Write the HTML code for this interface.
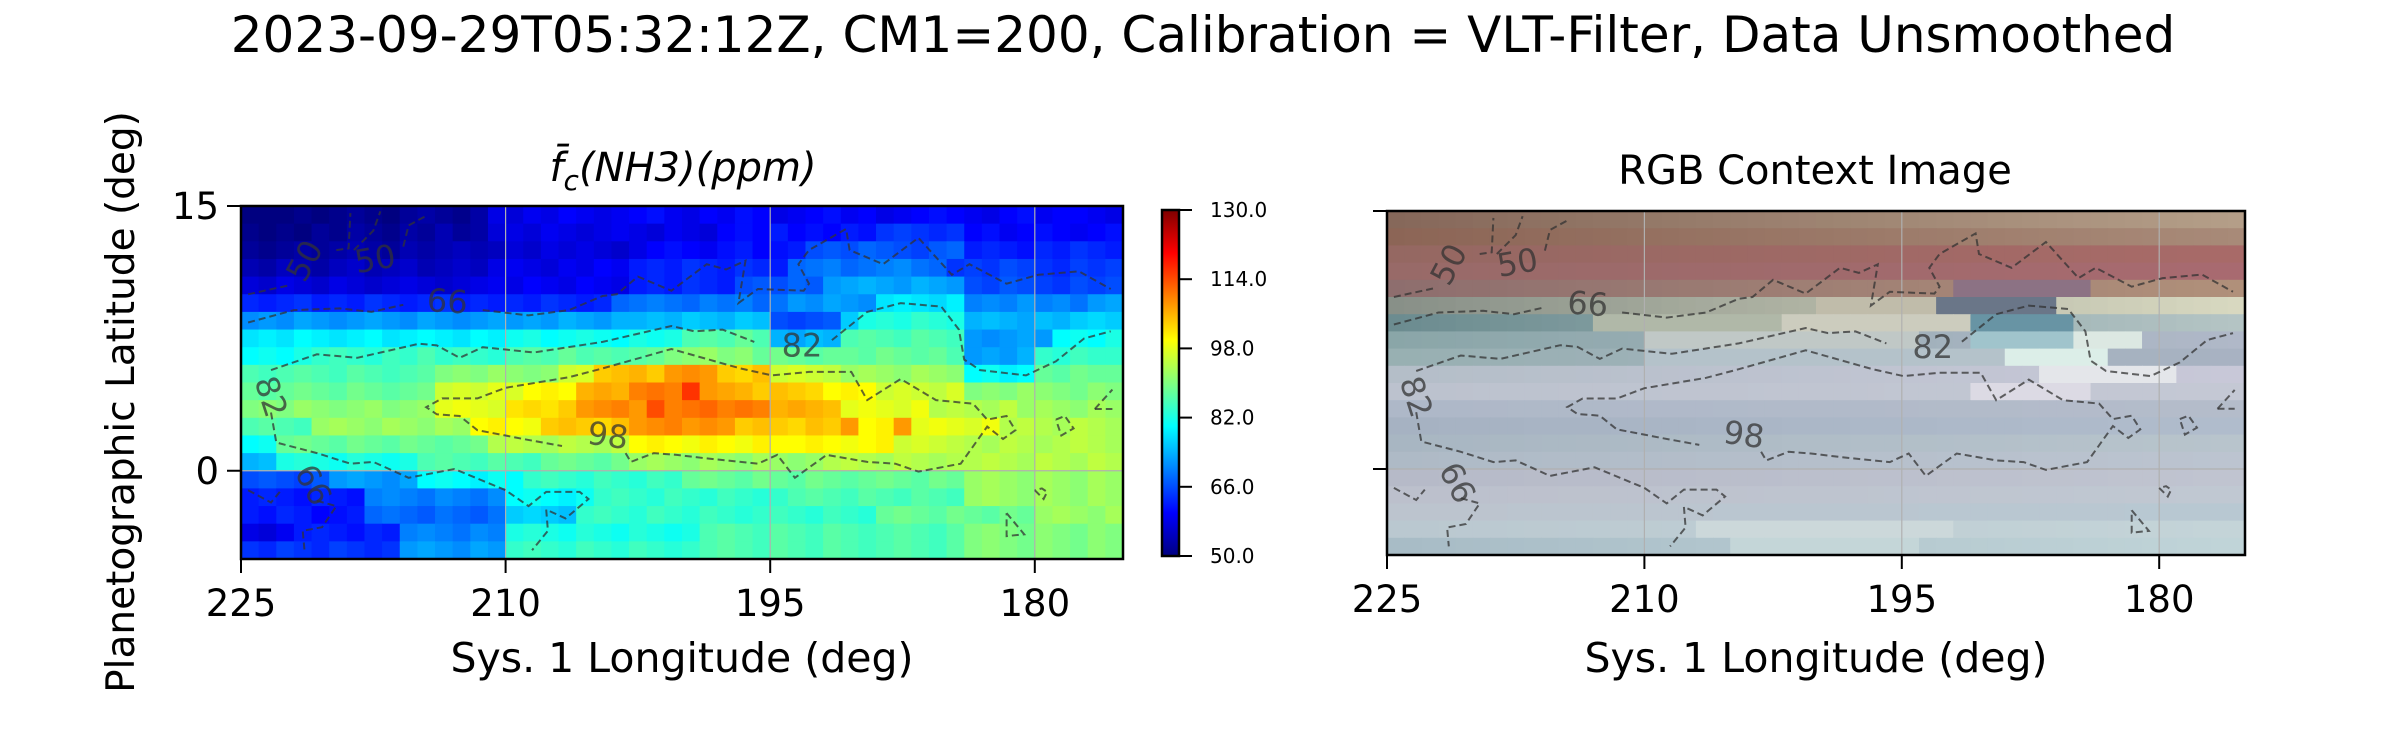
<!DOCTYPE html>
<html><head><meta charset="utf-8"><style>
html,body{margin:0;padding:0;background:#fff;}
svg{display:block;font-family:"DejaVu Sans","Liberation Sans",sans-serif;}
</style></head><body>
<svg id="fig" width="2400" height="750" viewBox="0 0 2400 750" xmlns="http://www.w3.org/2000/svg">
<text x="1203" y="52" font-size="50" text-anchor="middle">2023-09-29T05:32:12Z, CM1=200, Calibration = VLT-Filter, Data Unsmoothed</text>
<text transform="translate(134,402) rotate(-90)" font-size="39" text-anchor="middle">Planetographic Latitude (deg)</text>
<text x="683" y="181" font-size="40" text-anchor="middle" font-style="italic">f̄<tspan font-size="28" dy="9">c</tspan><tspan dy="-9">(NH3)(ppm)</tspan></text>
<text x="1815" y="184" font-size="40" text-anchor="middle">RGB Context Image</text>
<text x="682" y="672" font-size="41" text-anchor="middle">Sys. 1 Longitude (deg)</text>
<text x="1816" y="672" font-size="41" text-anchor="middle">Sys. 1 Longitude (deg)</text>
<g id="left"></g>
<g id="right"></g>
<g id="cbar"></g>
</svg>
<script>
const nh3 = [
[50,50,50,51,50,51,52,51,50,52,53,52,51,53,58,57,59,58,60,59,58,59,60,61,59,58,60,59,61,60,58,59,60,61,59,60,58,59,60,61,60,59,58,60,61,59,60,60,59,58],
[51,50,51,50,52,51,53,52,51,53,52,54,52,53,57,58,57,59,58,57,58,59,58,57,59,58,57,60,61,60,62,60,61,60,62,61,64,65,64,63,64,60,61,59,60,61,60,59,60,61],
[52,51,52,53,52,53,54,53,52,54,53,54,55,54,55,57,56,58,57,58,57,56,58,60,61,60,59,61,62,60,61,62,66,67,66,68,67,66,65,67,68,62,63,62,61,63,62,64,63,62],
[54,53,55,54,53,55,56,54,55,56,54,55,56,55,58,59,58,57,59,58,60,59,62,63,62,64,63,62,64,63,62,68,69,70,68,69,70,71,69,68,64,65,64,66,65,64,63,65,64,65],
[57,56,58,57,56,58,57,56,57,58,57,56,57,58,59,58,60,59,58,60,59,58,62,63,62,64,63,62,66,67,66,68,67,72,73,74,73,72,74,73,72,66,65,67,66,65,64,66,65,66],
[63,62,63,64,62,63,62,64,63,62,63,64,62,63,62,63,62,64,63,62,63,68,69,70,69,68,70,69,70,68,69,72,71,73,72,71,78,79,78,77,79,70,71,70,72,70,71,69,72,73],
[71,72,71,73,72,71,72,73,72,71,73,72,71,72,73,72,73,72,74,73,72,74,74,75,74,76,75,74,76,75,66,65,66,67,76,82,83,82,84,83,82,74,75,74,73,75,74,76,77,76],
[78,79,78,80,79,78,79,80,78,79,80,79,78,80,79,81,82,80,81,82,81,80,82,81,82,86,87,86,88,86,74,73,75,74,86,87,86,85,87,86,85,72,71,72,73,72,80,81,80,82],
[80,81,80,82,84,85,84,83,85,84,86,84,85,84,83,86,87,86,88,86,87,86,87,88,90,91,92,90,91,88,89,88,87,88,88,87,89,88,87,88,86,72,73,72,74,84,83,85,84,84],
[86,85,86,87,86,85,87,86,85,86,87,90,91,90,92,91,90,91,96,97,104,105,106,104,108,109,108,104,103,105,96,97,96,95,92,93,92,91,93,92,91,80,81,79,80,88,87,89,88,88],
[88,87,88,89,88,87,89,88,87,88,89,96,97,96,98,97,100,101,100,106,107,106,110,111,110,116,108,107,106,104,105,104,103,100,101,100,96,97,96,95,97,90,91,90,92,91,90,89,91,90],
[90,91,90,92,91,90,91,92,90,91,92,98,99,98,97,102,103,102,104,108,109,110,108,114,110,111,112,110,111,110,106,107,106,105,98,99,98,97,99,94,95,94,93,95,92,93,92,91,93,92],
[86,87,86,85,92,93,92,91,93,92,91,93,92,100,101,100,99,104,105,104,103,105,108,109,110,108,109,108,104,105,104,103,105,104,108,100,101,108,98,99,98,97,99,94,95,94,93,95,94,93],
[80,81,88,89,88,87,89,88,87,89,88,87,88,89,94,95,94,93,95,94,93,95,100,101,100,99,101,100,99,101,100,100,101,100,99,100,101,96,97,96,95,94,93,95,94,93,94,95,94,93],
[74,75,82,83,82,81,83,82,81,82,86,87,86,85,87,86,85,88,89,88,87,89,92,93,92,91,93,92,91,93,92,91,92,94,95,94,93,95,94,93,94,94,95,94,93,95,94,93,95,94],
[66,67,66,65,67,72,73,72,71,73,80,81,80,79,81,80,84,85,84,83,85,84,83,85,84,88,89,88,87,89,88,87,89,88,87,88,89,88,87,89,88,92,93,92,91,93,92,91,93,92],
[62,63,62,61,63,62,61,70,71,70,69,71,70,69,71,80,81,80,79,81,84,85,84,83,85,84,83,85,84,83,84,86,87,86,85,87,86,85,87,86,85,92,93,92,91,93,92,91,93,92],
[62,61,63,62,60,61,62,68,69,68,67,69,68,67,69,76,77,76,75,84,85,84,83,85,84,83,85,84,83,84,85,84,83,85,84,83,88,89,88,87,89,88,87,89,88,92,93,92,91,93],
[58,57,59,62,63,62,61,63,62,70,71,70,69,71,70,82,83,82,81,83,82,81,83,82,81,82,86,87,86,85,87,86,85,87,86,85,86,87,86,85,87,90,91,90,89,91,90,89,91,90],
[64,63,65,64,63,65,64,63,64,72,73,72,71,73,72,84,85,84,83,85,84,83,85,84,83,84,86,87,86,85,87,86,85,87,86,85,86,87,86,85,87,90,91,90,89,91,90,89,91,90]
];
const lonTicks = [225, 210, 195, 180];
const latTicks = [15, 0];
const cbTicks = [50, 66, 82, 98, 114, 130];
const cbTickLabels = ["50.0", "66.0", "82.0", "98.0", "114.0", "130.0"];
const rgbRowLeft = ["#86685a","#8c6556","#956862","#986a68","#8e6e6e","#889088","#6c8c90","#8aa6a8","#98b0b2","#b4bec8","#bcc2ce","#aeb8c8","#a6b2c2","#a8b6c2","#aebac6","#b6bac8","#bcc0cc","#bcc4ce","#bac8d0","#a8bcc6"];
const rgbRowRight = ["#b49e88","#a88a78","#a86a68","#a86a70","#b0907a","#d8d8c0","#b4c4c4","#b0b8c8","#a8b2c2","#c8c8d8","#c4c8d4","#b4bcca","#b0bccc","#b8c4cc","#bcc4d0","#c0c4d0","#c0c8d2","#b8c8d2","#c4d4d8","#c0d4d8"];
const rgbPatches = [
 [5,25,31,"#c0bcaa"],[5,32,38,"#6a7688"],[4,33,40,"#8c7284"],
 [6,12,22,"#b0b8a8"],[6,23,33,"#ccccbe"],[6,34,39,"#6894a4"],
 [7,34,39,"#a0c4cc"],[7,40,43,"#dce8e2"],[7,15,30,"#c0c8c6"],
 [8,36,41,"#dceee8"],[8,15,35,"#b4c2ca"],[9,38,45,"#e4e6ea"],[10,34,40,"#dcdae4"],
 [18,18,32,"#ccd8da"],[19,20,30,"#c4d6d8"]
];
const contour50 = [
 [[224.6,10.0],[222.3,10.5]],
 [[219.6,12.5],[218.9,12.6],[218.8,14.6]],
 [[218.6,12.5],[217.5,13.6],[217.1,14.7]],
 [[215.8,12.7],[215.5,13.9],[214.4,14.5]]
];
const contour66 = [
 [[224.6,8.4],[222.0,9.1],[219.4,9.2],[217.6,9.0],[215.8,9.4]],
 [[211.3,9.1],[208.7,8.8],[206.4,9.1],[204.5,9.9],[203.7,10.0],[202.5,11.0],[200.6,10.2],[198.6,11.7],[197.5,11.4],[196.4,11.9],[196.8,9.5],[195.7,10.3],[193.1,10.2],[192.8,10.6],[193.4,11.7],[192.8,12.5],[190.7,13.7],[190.5,12.5],[188.6,11.7],[186.6,13.2],[184.7,11.1],[183.7,11.7],[181.6,10.6],[179.8,11.1],[177.5,11.3],[175.7,10.3]],
 [[224.6,-1.1],[223.3,-1.8],[222.8,-1.2]],
 [[220.7,-1.7],[219.6,-2.0],[220.4,-3.2],[221.5,-3.4],[221.4,-4.5]]
];
const contour82 = [
 [[223.3,5.7],[220.7,6.6],[218.4,6.4],[214.9,7.2],[213.9,7.1],[212.6,6.4],[211.3,7.0],[208.4,6.7],[204.5,7.3],[200.6,8.2],[199.3,7.9],[197.7,8.0],[195.9,7.3]],
 [[191.5,7.4],[189.5,9.0],[187.6,9.5],[185.3,9.3],[184.3,8.0],[184.0,6.3],[183.1,5.7],[180.5,5.4],[178.8,6.2],[177.2,7.5],[175.7,7.9]],
 [[223.3,3.3],[223.0,1.6],[220.7,1.0],[218.8,0.4],[217.5,0.5],[215.5,-0.4],[212.9,0.1],[210.0,-1.1],[208.7,-2.0],[207.7,-1.2],[205.8,-1.2],[205.3,-1.6],[206.6,-2.7],[207.7,-2.2],[207.6,-3.4],[208.5,-4.5]],
 [[180.0,-1.1],[179.5,-1.6],[179.3,-1.2],[179.6,-1.0],[180.0,-1.1]],
 [[181.6,-2.4],[180.6,-3.6],[181.6,-3.7],[181.6,-2.4]],
 [[176.6,3.5],[175.6,4.6]],[[176.6,3.5],[175.6,3.5]]
];
const contour98 = [
 [[203.2,1.0],[202.9,0.5],[201.6,1.0],[200.3,0.9],[198.6,0.7],[195.7,0.4],[194.6,0.9],[193.6,-0.4],[191.8,0.9],[189.5,0.5],[187.9,0.4],[186.6,-0.05],[184.2,0.4],[182.7,2.5],[181.8,1.8],[181.1,2.3],[181.6,3.1],[182.7,2.9],[183.5,3.8],[185.6,4.0],[187.6,5.2],[189.5,4.0],[190.4,5.6],[192.8,5.6],[194.9,5.4],[196.7,5.8],[200.6,6.9],[204.5,5.8],[206.4,5.3],[210.0,4.7],[211.6,4.1],[213.6,4.1],[214.5,3.6],[213.9,3.2],[212.6,3.1],[211.6,2.3],[210.0,2.0],[209.0,1.8],[206.8,1.4]],
 [[178.8,2.9],[178.3,3.1],[177.8,2.4],[178.5,2.0],[178.8,2.9]]
];
const contourLabels = [
 ["50",221.4,11.9,-62],["50",217.4,12.0,-10],["66",213.3,9.6,4],["82",193.2,7.1,0],["82",223.3,4.2,72],["98",204.2,2.0,8],["66",220.9,-0.8,62]
];

const NS = "http://www.w3.org/2000/svg";
function mk(tag, attrs, parent){ const e=document.createElementNS(NS,tag); for(const k in attrs) e.setAttribute(k,attrs[k]); parent.appendChild(e); return e; }
function jet(v){
  const t=Math.max(0,Math.min(1,(v-50)/80));
  const f=(x)=>Math.max(0,Math.min(1,1.5-Math.abs(4*x)));
  const r=f(t-0.75), g=f(t-0.5), b=f(t-0.25);
  return "rgb("+Math.round(r*255)+","+Math.round(g*255)+","+Math.round(b*255)+")";
}
function hexMix(a,b,t){
  const pa=[1,3,5].map(i=>parseInt(a.substr(i,2),16)), pb=[1,3,5].map(i=>parseInt(b.substr(i,2),16));
  return "rgb("+pa.map((v,i)=>Math.round(v+(pb[i]-v)*t)).join(",")+")";
}
function makeAxes(x0,x1,y0,y1){
  return { x:(lon)=>x0+(225-lon)/50*(x1-x0), y:(lat)=>y0+(15-lat)/20*(y1-y0), x0,x1,y0,y1 };
}
const AL = makeAxes(241,1123,206,559);
const AR = makeAxes(1387,2245,211,555);

function drawPanel(g, A, cellColor, labelTicks, nameP){
  for(let r=0;r<20;r++){
    for(let c=0;c<50;c++){
      const lonL=225-c, latT=15-r;
      const x=A.x(lonL), y=A.y(latT);
      const rect=mk("rect",{x:x.toFixed(2),y:y.toFixed(2),width:(A.x(lonL-1)-x+0.6).toFixed(2),height:(A.y(latT-1)-y+0.6).toFixed(2),fill:cellColor(r,c)},g);
      
      
    }
  }
  lonTicks.forEach(lon=>{
    const gl=mk("line",{x1:A.x(lon),x2:A.x(lon),y1:A.y0,y2:A.y1,stroke:"#b0b0b0","stroke-width":1.2},g);
    
    
  });
  latTicks.forEach(lat=>{
    const gl=mk("line",{x1:A.x0,x2:A.x1,y1:A.y(lat),y2:A.y(lat),stroke:"#b0b0b0","stroke-width":1.2},g);
    
    
  });
  const sets=[contour50,contour66,contour82,contour98];
  sets.forEach(set=>set.forEach(line=>{
    const d=line.map((p,i)=>(i?"L":"M")+A.x(p[0]).toFixed(1)+","+A.y(p[1]).toFixed(1)).join(" ");
    const path=mk("path",{d:d,fill:"none",stroke:"#333","stroke-opacity":0.75,"stroke-width":2,"stroke-dasharray":"7,4"},g);
    
    
  }));
  contourLabels.forEach(l=>{
    const t=mk("text",{x:A.x(l[1]),y:A.y(l[2]),"font-size":32,"text-anchor":"middle","dominant-baseline":"central",fill:"#333","fill-opacity":0.75,transform:"rotate("+l[3]+" "+A.x(l[1])+" "+A.y(l[2])+")"},g);
    t.textContent=l[0];
    
    
  });
  const frame=mk("rect",{x:A.x0,y:A.y0,width:A.x1-A.x0,height:A.y1-A.y0,fill:"none",stroke:"#000","stroke-width":2.5},g);
  
  
  lonTicks.forEach(lon=>{
    const tk=mk("line",{x1:A.x(lon),x2:A.x(lon),y1:A.y1,y2:A.y1+14,stroke:"#000","stroke-width":2},g);
    
    
    const t=mk("text",{x:A.x(lon),y:A.y1+57,"font-size":37,"text-anchor":"middle"},g);
    t.textContent=lon;
    
    
  });
  latTicks.forEach(lat=>{
    const tk=mk("line",{x1:A.x0-14,x2:A.x0,y1:A.y(lat),y2:A.y(lat),stroke:"#000","stroke-width":2},g);
    
    
    if(labelTicks){
      const t=mk("text",{x:A.x0-22,y:A.y(lat)+13,"font-size":37,"text-anchor":"end"},g);
      t.textContent=lat;
      
      
    }
  });
}
drawPanel(document.getElementById("left"), AL, (r,c)=>jet(nh3[r][c]), true, "nh3");
drawPanel(document.getElementById("right"), AR, (r,c)=>{
  for(const p of rgbPatches){ if(p[0]===r && c>=p[1] && c<=p[2]) return p[3]; }
  return hexMix(rgbRowLeft[r], rgbRowRight[r], c/49);
}, false, "rgb");

(function(){
  const g=document.getElementById("cbar");
  const cx0=1162, cx1=1179, cy0=210, cy1=556;
  const cy=(v)=>cy1-(v-50)/80*(cy1-cy0);
  const defs=mk("defs",{},g);
  const lg=mk("linearGradient",{id:"jetg",x1:0,y1:1,x2:0,y2:0},defs);
  for(let i=0;i<=40;i++){ mk("stop",{offset:(i/40),"stop-color":jet(50+i*2)},lg); }
  const bar=mk("rect",{x:cx0,y:cy0,width:cx1-cx0,height:cy1-cy0,fill:"url(#jetg)",stroke:"#000","stroke-width":2.5},g);
  
  
  cbTicks.forEach((v,i)=>{
    const tk=mk("line",{x1:cx1,x2:cx1+13,y1:cy(v),y2:cy(v),stroke:"#000","stroke-width":2},g);
    
    
    const t=mk("text",{x:1210,y:cy(v)+7,"font-size":20},g);
    t.textContent=cbTickLabels[i];
    
    
  });
})();
</script>
</body></html>
